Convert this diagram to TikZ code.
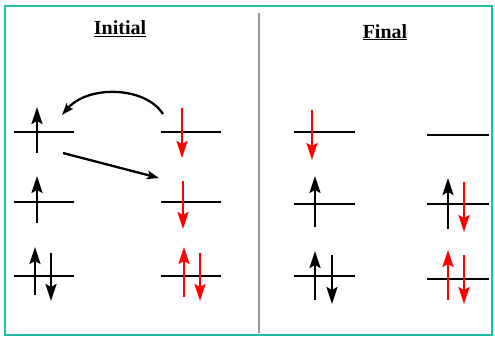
\documentclass[tikz,border=0pt]{standalone}
\usepackage{fontspec}
\setmainfont{Liberation Serif}
\usetikzlibrary{arrows.meta}
\definecolor{frame}{RGB}{32,190,168}
\definecolor{divider}{RGB}{150,150,150}
\definecolor{spinred}{RGB}{255,0,0}
\tikzset{
  level/.style={line width=2.3pt},
  spin/.style={line width=2.3pt,-{Stealth[length=17pt,width=11pt,inset=3pt]}},
  redspin/.style={spin,spinred},
  transfer/.style={line width=2.3pt,-{Stealth[length=12pt,width=8.5pt,inset=2.5pt]}},
  title/.style={font=\fontsize{20}{24}\selectfont\bfseries,inner sep=0pt,anchor=base}
}
\begin{document}
\begin{tikzpicture}[x=1pt,y=-1pt]
\useasboundingbox (0,0) rectangle (495,337);
\draw[frame,line width=2pt] (5,6) rectangle (492,335);
\draw[divider,line width=2.5pt] (259,13) -- (259,333);
\node[title] (tinit) at (120,35) {\underline{Initial}};
\node[title] (tfin) at (385,38) {\underline{Final}};
% Initial levels
\draw[level] (14,132) -- (74,132);
\draw[level] (161,132) -- (221,132);
\draw[level] (14,202) -- (74,202);
\draw[level] (161,202) -- (221,202);
\draw[level] (14,276) -- (74,276);
\draw[level] (161,276) -- (221,276);
% Initial spins
\draw[spin] (37,153) -- (37,107);
\draw[redspin] (182,108) -- (182,158);
\draw[spin] (37,223) -- (37,176);
\draw[redspin] (183,181) -- (183,229);
\draw[spin] (35,295) -- (35,247);
\draw[spin] (51,253) -- (51,301);
\draw[redspin] (184,297) -- (184,247);
\draw[redspin] (200,253) -- (200,301);
% transfers
\coordinate (c1s) at (163,114);
\coordinate (c1e) at (62,115);
\draw[transfer] (c1s) .. controls (145,86) and (88,85) .. (c1e);
\coordinate (c2s) at (63,153);
\coordinate (c2e) at (159,178);
\draw[transfer] (c2s) -- (c2e);
% Final levels
\draw[level] (294,132) -- (355,132);
\draw[level] (427,135) -- (489,135);
\draw[level] (294,204) -- (355,204);
\draw[level] (427,204) -- (489,204);
\draw[level] (294,276) -- (355,276);
\draw[level] (427,279) -- (489,279);
% Final spins
\draw[redspin] (312,110) -- (312,160);
\draw[spin] (315,227) -- (315,176);
\draw[spin] (448,229) -- (448,178);
\draw[redspin] (464,182) -- (464,232);
\draw[spin] (315,300) -- (315,251);
\draw[spin] (332,255) -- (332,304);
\draw[redspin] (448,300) -- (448,250);
\draw[redspin] (464,255) -- (464,304);
\end{tikzpicture}
\end{document}
